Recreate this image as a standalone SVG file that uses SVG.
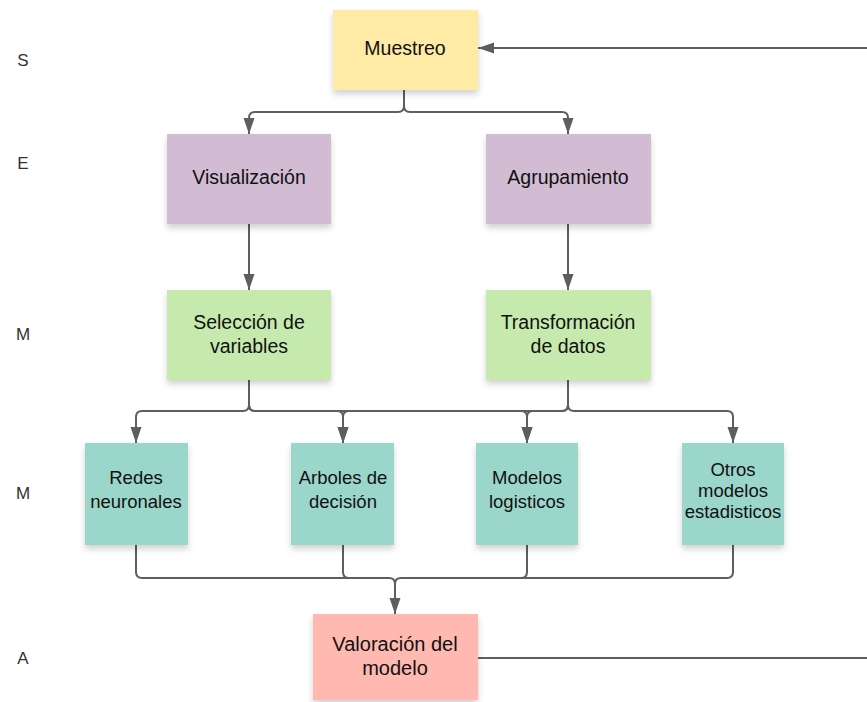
<svg xmlns="http://www.w3.org/2000/svg" width="867" height="702" viewBox="0 0 867 702">
<style>
.t{font-family:"Liberation Sans",Arial,sans-serif;font-size:19.5px;fill:#111;text-anchor:middle}
.s{font-size:18.5px}
.l{font-family:"Liberation Sans",Arial,sans-serif;font-size:17px;fill:#333;text-anchor:middle}
.c{fill:none;stroke:#5e5e5e;stroke-width:2;stroke-linejoin:round}
.box{filter:url(#sh)}
</style>
<defs>
<filter id="sh" x="-20%" y="-20%" width="140%" height="150%">
<feDropShadow dx="0" dy="4" stdDeviation="3" flood-color="#000" flood-opacity="0.18"/>
</filter>
<marker id="ar" viewBox="0 0 16 12" refX="16" refY="6" markerWidth="16" markerHeight="12" markerUnits="userSpaceOnUse" orient="auto">
<path d="M0,0.5 L16,6 L0,11.5 Z" fill="#5e5e5e"/>
</marker>
</defs>
<g id="stage-labels">
<text class="l" x="23" y="66">S</text>
<text class="l" x="23" y="169">E</text>
<text class="l" x="23" y="340">M</text>
<text class="l" x="23" y="499">M</text>
<text class="l" x="23" y="664">A</text>
</g>
<g id="connectors">
<path class="c" d="M404,90 V106 Q404,112 398,112 H255 Q249,112 249,118 V134" marker-end="url(#ar)"/>
<path class="c" d="M404,90 V106 Q404,112 410,112 H562 Q568,112 568,118 V134" marker-end="url(#ar)"/>
<path class="c" d="M249,224 V290" marker-end="url(#ar)"/>
<path class="c" d="M568,224 V290" marker-end="url(#ar)"/>
<path class="c" d="M249,380 V405 Q249,411 243,411 H142 Q136,411 136,417 V443" marker-end="url(#ar)"/>
<path class="c" d="M249,380 V405 Q249,411 255,411 H337 Q343,411 343,417 V443" marker-end="url(#ar)"/>
<path class="c" d="M249,380 V405 Q249,411 255,411 H521 Q527,411 527,417 V443" marker-end="url(#ar)"/>
<path class="c" d="M568,380 V405 Q568,411 562,411 H533 Q527,411 527,417 V443" marker-end="url(#ar)"/>
<path class="c" d="M568,380 V405 Q568,411 562,411 H349 Q343,411 343,417 V443" marker-end="url(#ar)"/>
<path class="c" d="M568,380 V405 Q568,411 574,411 H727 Q733,411 733,417 V443" marker-end="url(#ar)"/>
<path class="c" d="M136,545 V572 Q136,578 142,578 H389 Q395,578 395,584 V614" marker-end="url(#ar)"/>
<path class="c" d="M343,545 V572 Q343,578 349,578 H389"/>
<path class="c" d="M527,545 V572 Q527,578 521,578 H401 Q395,578 395,584"/>
<path class="c" d="M733,545 V572 Q733,578 727,578 H401"/>
<path class="c" d="M478,658 H867"/>
<path class="c" d="M867,48 H478" marker-end="url(#ar)"/>
</g>
<g id="muestreo">
<rect class="box" x="333" y="10" width="145" height="80" fill="#ffeaa6"/>
<text class="t" x="405" y="55">Muestreo</text>
</g>
<g id="visualizacion">
<rect class="box" x="167" y="134" width="164" height="90" fill="#d2bcd3"/>
<text class="t" x="249" y="184">Visualización</text>
</g>
<g id="agrupamiento">
<rect class="box" x="486" y="134" width="165" height="90" fill="#d2bcd3"/>
<text class="t" x="568" y="184">Agrupamiento</text>
</g>
<g id="seleccion">
<rect class="box" x="167" y="290" width="164" height="90" fill="#c6e9ad"/>
<text class="t" x="249" y="329">Selección de</text>
<text class="t" x="249" y="353">variables</text>
</g>
<g id="transformacion">
<rect class="box" x="486" y="290" width="165" height="90" fill="#c6e9ad"/>
<text class="t" x="568" y="329">Transformación</text>
<text class="t" x="568" y="353">de datos</text>
</g>
<g id="redes">
<rect class="box" x="85" y="443" width="103" height="102" fill="#9ad6ca"/>
<text class="t s" x="136" y="484">Redes</text>
<text class="t s" x="136" y="508">neuronales</text>
</g>
<g id="arboles">
<rect class="box" x="291" y="443" width="103" height="102" fill="#9ad6ca"/>
<text class="t s" x="343" y="484">Arboles de</text>
<text class="t s" x="343" y="508">decisión</text>
</g>
<g id="logisticos">
<rect class="box" x="476" y="443" width="102" height="102" fill="#9ad6ca"/>
<text class="t s" x="527" y="484">Modelos</text>
<text class="t s" x="527" y="508">logisticos</text>
</g>
<g id="otros">
<rect class="box" x="682" y="443" width="102" height="102" fill="#9ad6ca"/>
<text class="t s" x="733" y="476">Otros</text>
<text class="t s" x="733" y="497">modelos</text>
<text class="t s" x="733" y="518">estadisticos</text>
</g>
<g id="valoracion">
<rect class="box" x="313" y="614" width="165" height="86" fill="#ffb9b0"/>
<text class="t" x="395" y="651" style="font-size:20px">Valoración del</text>
<text class="t" x="395" y="675" style="font-size:20px">modelo</text>
</g>
</svg>
